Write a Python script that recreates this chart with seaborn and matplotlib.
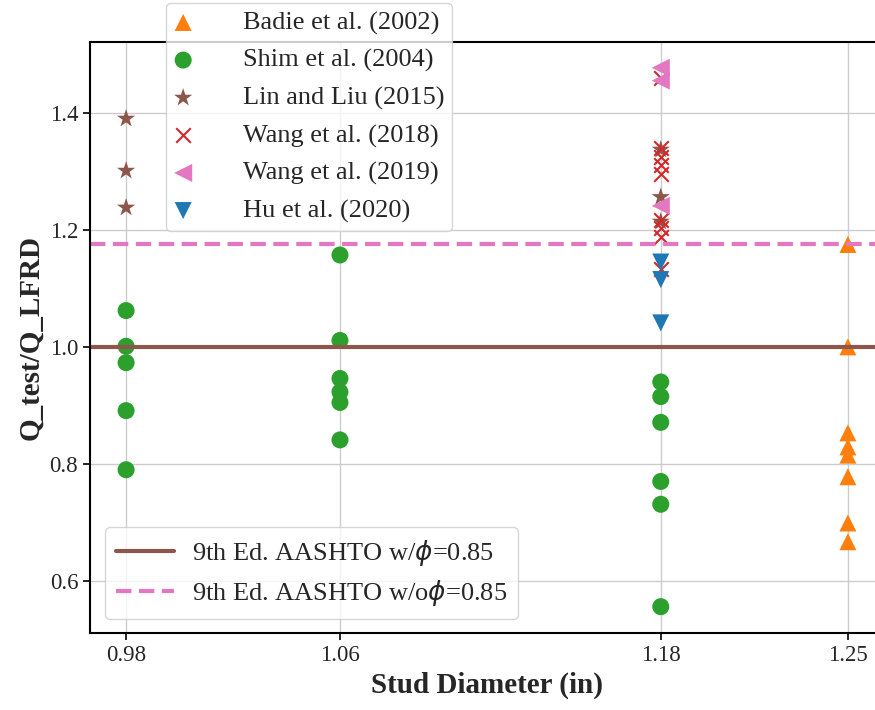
import matplotlib
matplotlib.use("Agg")
from matplotlib import pyplot as plt
import pandas as pd
import seaborn as sns

# stud diameters (in)
d_badie = [1.25] * 8
q_badie = [1.175, 1.0, 0.853, 0.829, 0.815, 0.778, 0.699, 0.667]

d_shim = [0.98] * 5 + [1.06] * 6 + [1.18] * 6
q_shim = [1.062, 1.001, 0.973, 0.891, 0.790,
          1.157, 1.011, 0.946, 0.923, 0.905, 0.841,
          0.940, 0.915, 0.871, 0.770, 0.731, 0.556]

d_lin = [0.98] * 3 + [1.18] * 3
q_lin = [1.390, 1.301, 1.238, 1.337, 1.256, 1.214]

d_wang18 = [1.18] * 9
q_wang18 = [1.460, 1.340, 1.325, 1.311, 1.296, 1.217, 1.203, 1.188, 1.133]

d_wang19 = [1.18] * 3
q_wang19 = [1.477, 1.455, 1.241]

d_hu = [1.18] * 3
q_hu = [1.145, 1.115, 1.041]

xticks = [0.98, 1.06, 1.18, 1.25]
phi = 0.85

studies = [
    ("Badie et al. (2002)", d_badie, q_badie, "^", "#ff7f0e", 150),
    ("Shim et al. (2004)", d_shim, q_shim, "o", "#2ca02c", 150),
    ("Lin and Liu (2015)", d_lin, q_lin, "*", "#8c564b", 190),
    ("Wang et al. (2018)", d_wang18, q_wang18, "x", "#d62728", 110),
    ("Wang et al. (2019)", d_wang19, q_wang19, "<", "#e377c2", 170),
    ("Hu et al. (2020)", d_hu, q_hu, "v", "#1f77b4", 150),
]

sns.set_style("whitegrid")
plt.rcParams['font.family'] = ['serif']
plt.rcParams['font.serif'] = ['Liberation Serif', 'DejaVu Serif']
plt.rcParams['mathtext.fontset'] = 'dejavusans'

fig = plt.figure(figsize=(8.75, 7.1), dpi=100)
ax = fig.add_axes([90 / 875, 77 / 710, 794 / 875, 591 / 710])

for name, d, q, m, c, s in studies:
    df = pd.DataFrame({"d": d, "q": q})
    if m == "x":
        sns.scatterplot(data=df, x="d", y="q", marker=m, color=c, s=s,
                        linewidth=1.5, label=name, ax=ax)
    else:
        sns.scatterplot(data=df, x="d", y="q", marker=m, color=c, s=s,
                        edgecolor="none", label=name, ax=ax)

h_pts, l_pts = ax.get_legend_handles_labels()
ax.get_legend().remove()

l1 = ax.axhline(1.0, color="#8c564b", lw=3)
l2 = ax.axhline(1 / phi, color="#e377c2", lw=3, ls=(0, (3.7, 1.8)))

ax.set_xlim(0.9665, 1.2635)
ax.set_ylim(0.511, 1.521)
ax.set_xticks(xticks)
ax.set_xticklabels([f"{t:.2f}" for t in xticks])
ax.set_yticks([0.6, 0.8, 1.0, 1.2, 1.4])
ax.tick_params(labelsize=16.5, length=5, width=1.2, color="black", bottom=True, left=True)
ax.grid(True, color="#cccccc", lw=1)
for sp in ax.spines.values():
    sp.set_color("black")
    sp.set_linewidth(1.5)

ax.set_xlabel("Stud Diameter (in)", fontsize=21, fontweight="bold")
ax.set_ylabel("Q_test/Q_LFRD", fontsize=21, fontweight="bold")

leg1 = ax.legend(h_pts, l_pts, loc="upper left", bbox_to_anchor=(166 / 875, 1 - 3 / 710),
                 bbox_transform=fig.transFigure, borderaxespad=0, fontsize=19,
                 labelspacing=0.52, handlelength=0.7, handletextpad=1.9,
                 borderpad=0.3, frameon=True)
ax.add_artist(leg1)
ax.legend([l1, l2], [r"9th Ed. AASHTO w/$\phi$=0.85", r"9th Ed. AASHTO w/o$\phi$=0.85"],
          loc="lower left", bbox_to_anchor=(105 / 875, 91 / 710),
          bbox_transform=fig.transFigure, borderaxespad=0, fontsize=19,
          labelspacing=0.4, handlelength=2.2, handletextpad=0.7, frameon=True)

fig.savefig("out.png", dpi=100)
